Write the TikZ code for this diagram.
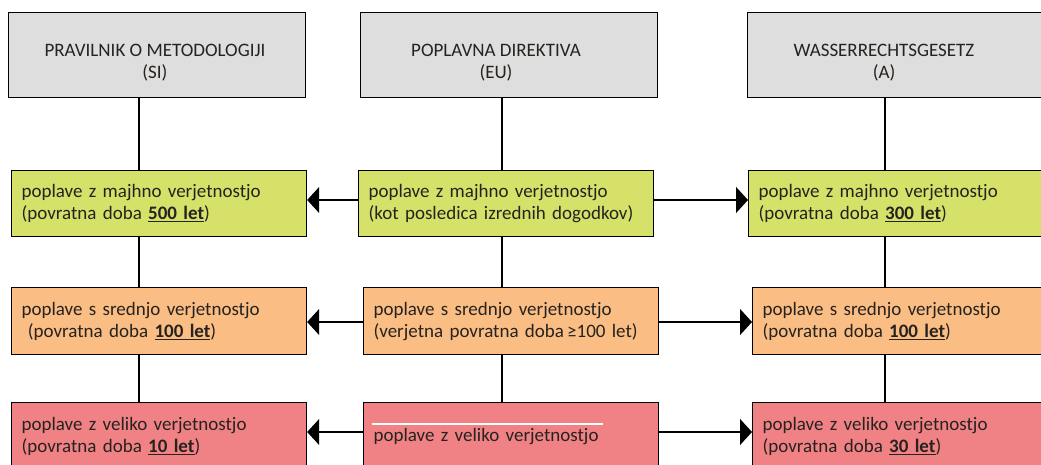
\documentclass[tikz,border=0pt]{standalone}
\usepackage{fontspec}
\setmainfont{Carlito}
\usetikzlibrary{arrows.meta}
\definecolor{hdrgray}{RGB}{222,222,222}
\definecolor{lowgreen}{RGB}{214,225,106}
\definecolor{midorange}{RGB}{250,190,132}
\definecolor{highred}{RGB}{240,130,134}
\definecolor{txt}{RGB}{38,34,30}
\begin{document}
\begin{tikzpicture}[x=1pt,y=-1pt,
  every node/.style={font=\fontsize{19}{22}\selectfont, text=txt},
  hdrbox/.style={draw=black, line width=1.2pt, fill=hdrgray, anchor=north west, inner sep=0pt, minimum width=297pt, minimum height=85pt},
  hdrtext/.style={align=center, inner sep=0pt},
  cbox/.style={draw=black, line width=1.2pt, anchor=north west, inner xsep=10pt, inner ysep=0pt, align=left, text width=275pt, minimum width=295pt},
  lowbox/.style={cbox, fill=lowgreen, minimum height=66pt},
  midbox/.style={cbox, fill=midorange, minimum height=67pt},
  highbox/.style={cbox, fill=highred, minimum height=68pt},
  ln/.style={draw=black, line width=1.2pt},
  arr/.style={ln, -{Triangle[length=12pt,width=26pt]}}
]
\useasboundingbox (0,0) rectangle (1041,465);
\clip (0,0) rectangle (1041,465);
\fill[white] (0,0) rectangle (1041,465);

% headers
\node[hdrbox] (h1) at (8,12) {};
\node[hdrbox] (h2) at (360,12) {};
\node[hdrbox] (h3) at (747,12) {};
\node[hdrtext] (t1) at (155,63) {PRAVILNIK O METODOLOGIJI\\(SI)};
\node[hdrtext] (t2) at (496,63) {POPLAVNA DIREKTIVA\\(EU)};
\node[hdrtext] (t3) at (884,63) {WASSERRECHTSGESETZ\\(A)};

% low probability row
\node[lowbox] (g1) at (11,170) {poplave z majhno verjetnostjo\\(povratna doba \underline{\textbf{500 let}})};
\node[lowbox] (g2) at (358,170) {poplave z majhno verjetnostjo\\(kot posledica izrednih dogodkov)};
\node[lowbox] (g3) at (748,170) {poplave z majhno verjetnostjo\\(povratna doba \underline{\textbf{300 let}})};

% medium probability row
\node[midbox] (o1) at (11,287) {poplave s srednjo verjetnostjo\\\ (povratna doba \underline{\textbf{100 let}})};
\node[midbox] (o2) at (363,287) {poplave s srednjo verjetnostjo\\(verjetna povratna doba\,≥100 let)};
\node[midbox] (o3) at (752,287) {poplave s srednjo verjetnostjo\\(povratna doba \underline{\textbf{100 let}})};

% high probability row
\node[highbox] (r1) at (11,402) {poplave z veliko verjetnostjo\\(povratna doba \underline{\textbf{10 let}})};
\node[highbox] (r2) at (363,402) {poplave z veliko verjetnostjo};
\node[highbox] (r3) at (752,402) {poplave z veliko verjetnostjo\\(povratna doba \underline{\textbf{30 let}})};
\draw[white, line width=1.4pt] ([xshift=9pt,yshift=-22pt]r2.north west) -- ([xshift=240pt,yshift=-22pt]r2.north west);

% vertical lines
\coordinate (v1) at (139,0);
\coordinate (v2) at (502,0);
\coordinate (v3) at (885,0);
\foreach \c/\a/\b/\d in {v1/h1/g1/o1, v2/h2/g2/o2, v3/h3/g3/o3}{
  \draw[ln] (\a.south -| \c) -- (\b.north -| \c);
  \draw[ln] (\b.south -| \c) -- (\d.north -| \c);
}
\draw[ln] (o1.south -| v1) -- (r1.north -| v1);
\draw[ln] (o2.south -| v2) -- (r2.north -| v2);
\draw[ln] (o3.south -| v3) -- (r3.north -| v3);

% horizontal arrows
\coordinate (ya) at (0,200);
\coordinate (yb) at (0,322);
\coordinate (yc) at (0,432);
\draw[arr] (g2.west |- ya) -- (g1.east |- ya);
\draw[arr] (g2.east |- ya) -- (g3.west |- ya);
\draw[arr] (o2.west |- yb) -- (o1.east |- yb);
\draw[arr] (o2.east |- yb) -- (o3.west |- yb);
\draw[arr] (r2.west |- yc) -- (r1.east |- yc);
\draw[arr] (r2.east |- yc) -- (r3.west |- yc);
\end{tikzpicture}
\end{document}
